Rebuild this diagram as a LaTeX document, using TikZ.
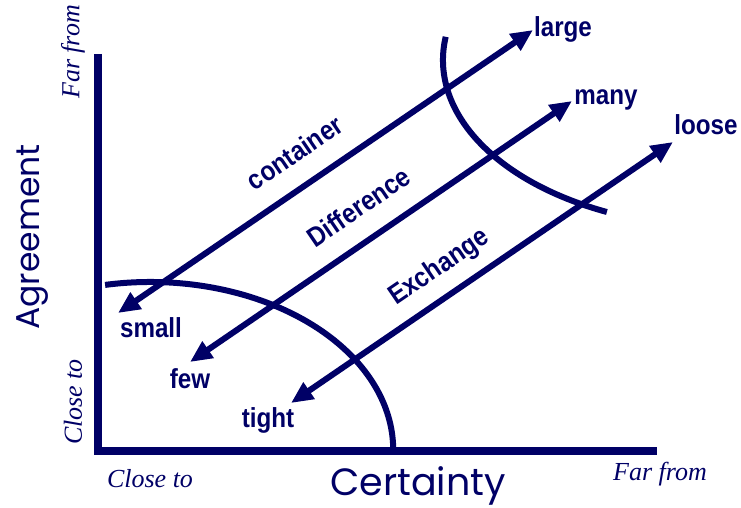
\documentclass[tikz,border=0pt]{standalone}
\usepackage{fontspec}
\setmainfont{Liberation Serif}
\newfontfamily\labelfont{Liberation Sans}[FakeStretch=0.88]
\newfontfamily\axisfont{Poppins}
\usetikzlibrary{arrows.meta}
\definecolor{Ink}{HTML}{000066}
\tikzset{
  axis/.style={draw=Ink,line width=7.5pt,line join=miter},
  bound/.style={draw=Ink,line width=6pt},
  link/.style={{Triangle[length=22pt,width=19pt]}-{Triangle[length=22pt,width=19pt]},line width=6pt,color=Ink},
  endlabel/.style={anchor=base,inner sep=0pt,text=Ink,font=\labelfont\bfseries\fontsize{27.5}{30}\selectfont},
  midlabel/.style={sloped,inner sep=0pt,above=#1,text=Ink,font=\labelfont\bfseries\fontsize{27.5}{30}\selectfont},
  axislabel/.style={inner sep=0pt,text=Ink,font=\axisfont\fontsize{#1}{40}\selectfont},
  scalelabel/.style={inner sep=0pt,text=Ink,font=\itshape\fontsize{26}{28}\selectfont}
}

\begin{document}
\begin{tikzpicture}[x=1pt,y=-1pt]
  \useasboundingbox (0,0) rectangle (741,508);
  % axes
  \coordinate (top) at (98,54);
  \coordinate (origin) at (98,451);
  \coordinate (right) at (657,451);
  \draw[axis] (top) -- (origin) -- (right);
  \node[axislabel=33,rotate=90] (agree) at (33,237) {Agreement};
  \node[axislabel=38,anchor=base] (cert) at (418,495) {Certainty};
  \node[scalelabel,rotate=90] (farY) at (73,52) {Far from};
  \node[scalelabel,rotate=90] (closeY) at (73,402) {Close to};
  \node[scalelabel] (closeX) at (150,479) {Close to};
  \node[scalelabel] (farX) at (660,474) {Far from};
  % boundaries
  \draw[bound] (105.1,284.9) arc[start angle=-100.7,end angle=0,x radius=243,y radius=168];
  \draw[bound] (445.7,36.8) arc[start angle=188,end angle=114.5,x radius=280,y radius=167];
  % arrow ends
  \coordinate (smallTip) at (118,313);
  \coordinate (largeTip) at (533,30);
  \coordinate (fewTip) at (190,362);
  \coordinate (manyTip) at (572,101);
  \coordinate (tightTip) at (291,403);
  \coordinate (looseTip) at (673,142);
  \node[endlabel] (small) at (151,337) {small};
  \node[endlabel] (large) at (563,37) {large};
  \node[endlabel] (few) at (190,388) {few};
  \node[endlabel] (many) at (606,105) {many};
  \node[endlabel] (tight) at (268,427) {tight};
  \node[endlabel] (loose) at (706,135) {loose};
  \draw[link] (smallTip) -- node[midlabel=20pt,pos=0.47] (cont) {container} (largeTip);
  \draw[link] (fewTip) -- node[midlabel=20pt,pos=0.49] (diff) {Difference} (manyTip);
  \draw[link] (tightTip) -- node[midlabel=12pt,pos=0.43] (exch) {Exchange} (looseTip);
\end{tikzpicture}
\end{document}
